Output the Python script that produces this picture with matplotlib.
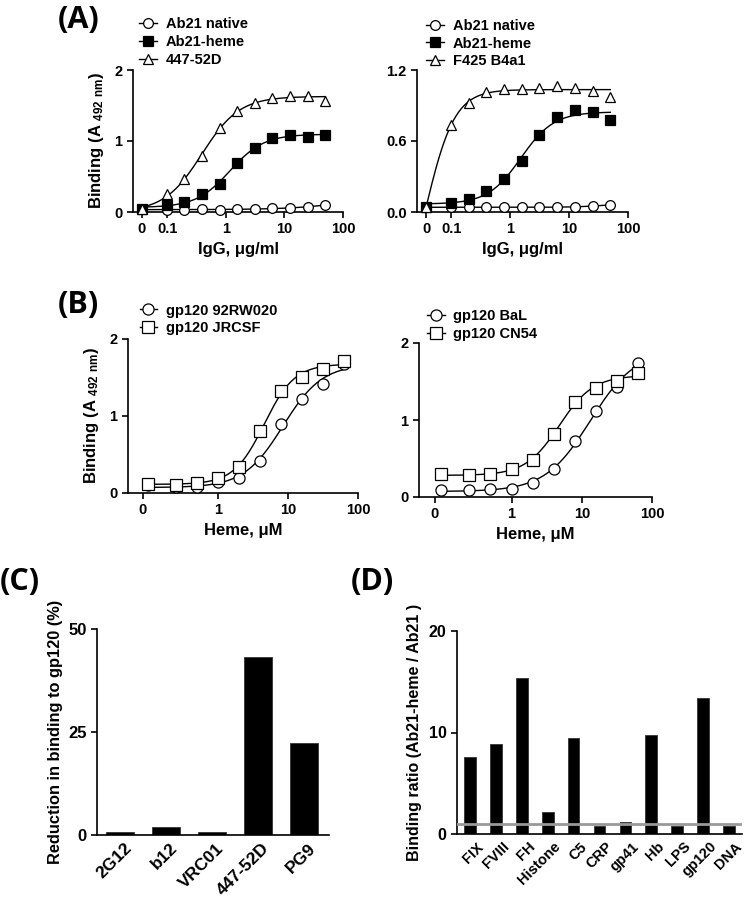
import numpy as np
import matplotlib
matplotlib.use("Agg")
import matplotlib.pyplot as plt
import matplotlib.transforms as mtransforms
from matplotlib.ticker import FixedLocator, FixedFormatter, NullLocator

plt.rcParams['font.family'] = ['Liberation Sans', 'DejaVu Sans']
plt.rcParams['font.weight'] = 'bold'
plt.rcParams['axes.labelweight'] = 'bold'
plt.rcParams['mathtext.fontset'] = 'custom'
plt.rcParams['mathtext.rm'] = 'Liberation Sans:bold'
plt.rcParams['mathtext.bf'] = 'Liberation Sans:bold'
plt.rcParams['mathtext.default'] = 'rm'

# ---------------- data ----------------
# Panel A: IgG concentration (first value is "0", drawn at the "0" tick)
igg_conc = [0, 0.098, 0.195, 0.39, 0.78, 1.56, 3.125, 6.25, 12.5, 25, 50]
a1_native = [0.04, 0.03, 0.03, 0.04, 0.03, 0.04, 0.04, 0.05, 0.06, 0.07, 0.10]
a1_heme = [0.04, 0.10, 0.145, 0.25, 0.40, 0.69, 0.90, 1.04, 1.08, 1.06, 1.09]
a1_447 = [0.04, 0.26, 0.46, 0.79, 1.18, 1.42, 1.54, 1.61, 1.63, 1.64, 1.56]
a2_native = [0.04, 0.04, 0.04, 0.04, 0.04, 0.04, 0.04, 0.04, 0.045, 0.05, 0.06]
a2_heme = [0.04, 0.08, 0.11, 0.18, 0.28, 0.43, 0.65, 0.80, 0.86, 0.845, 0.78]
a2_f425 = [0.04, 0.735, 0.92, 1.01, 1.04, 1.04, 1.045, 1.065, 1.045, 1.025, 0.97]

# Panel B: heme concentration (uM)
heme_conc = [0.1, 0.25, 0.5, 1, 2, 4, 8, 16, 32, 64]
b1_92rw = [0.10, 0.08, 0.08, 0.14, 0.19, 0.42, 0.90, 1.22, 1.41, 1.67]
b1_jrcsf = [0.12, 0.11, 0.13, 0.195, 0.34, 0.80, 1.32, 1.51, 1.61, 1.72]
b2_bal = [0.09, 0.09, 0.10, 0.11, 0.18, 0.36, 0.73, 1.12, 1.43, 1.74]
b2_cn54 = [0.295, 0.28, 0.30, 0.37, 0.48, 0.82, 1.24, 1.41, 1.51, 1.61]

# Panel C
c_labels = ['2G12', 'b12', 'VRC01', '447-52D', 'PG9']
c_values = [0.65, 2.0, 0.8, 43.1, 22.4]

# Panel D
d_labels = ['FIX', 'FVIII', 'FH', 'Histone', 'C5', 'CRP', 'gp41', 'Hb', 'LPS', 'gp120', 'DNA']
d_values = [7.6, 8.9, 15.4, 2.15, 9.5, 0.8, 1.15, 9.75, 0.8, 13.4, 0.8]
d_ref = 1.0

# ------------- helpers --------------
ZERO_A = 0.037


def fit4pl(x, y):
    x = np.asarray(x, float)
    y = np.asarray(y, float)
    lc = np.linspace(-2.5, 2.5, 501)
    hh = np.linspace(0.4, 5.0, 93)
    LC, HH = np.meshgrid(lc, hh, indexing='ij')
    LC = LC.ravel()[:, None]
    HH = HH.ravel()[:, None]
    s = 1.0 / (1.0 + (10.0 ** LC / x[None, :]) ** HH)
    u = 1 - s
    a = (u * u).sum(1); b = (u * s).sum(1); c = (s * s).sum(1)
    d1 = (u * y).sum(1); d2 = (s * y).sum(1)
    det = a * c - b * b
    det = np.where(np.abs(det) < 1e-12, 1e-12, det)
    bot = (c * d1 - b * d2) / det
    top = (a * d2 - b * d1) / det
    pred = bot[:, None] * u + top[:, None] * s
    r = ((pred - y[None, :]) ** 2).sum(1)
    i = np.argmin(r)
    return bot[i], top[i], 10 ** LC[i, 0], HH[i, 0]


def curve(p, xs):
    bot, top, ec, h = p
    return bot + (top - bot) / (1 + (ec / xs) ** h)


def style_axes(ax, labelsize=10.5):
    for sp in ['top', 'right']:
        ax.spines[sp].set_visible(False)
    for sp in ['left', 'bottom']:
        ax.spines[sp].set_linewidth(1.2)
    ax.tick_params(direction='out', length=4, width=1.2, labelsize=labelsize)
    for lab in ax.get_xticklabels() + ax.get_yticklabels():
        lab.set_fontweight('bold')


def dose_panel(ax, xvals, series, xlim, xticks, xticklabels, ylim, yticks,
               yticklabels, xlabel, legend_anchor):
    xs_all = np.array(xvals, float)
    handles = []
    for ys, marker, fc, ms, label in series:
        p = fit4pl(xs_all, ys)
        xx = np.logspace(np.log10(xs_all[0]), np.log10(xs_all[-1]), 300)
        ax.plot(xx, curve(p, xx), color='black', lw=1.0, zorder=2)
        ax.plot(xs_all, ys, linestyle='none', marker=marker, markersize=ms,
                markerfacecolor=fc, markeredgecolor='black', markeredgewidth=0.9,
                zorder=3, clip_on=False)
        h, = ax.plot([], [], color='black', lw=1.0, marker=marker, markersize=ms,
                     markerfacecolor=fc, markeredgecolor='black', markeredgewidth=0.9,
                     label=label)
        handles.append(h)
    ax.set_xscale('log')
    ax.set_xlim(*xlim)
    ax.set_ylim(*ylim)
    ax.xaxis.set_major_locator(FixedLocator(xticks))
    ax.xaxis.set_major_formatter(FixedFormatter(xticklabels))
    ax.xaxis.set_minor_locator(NullLocator())
    ax.set_yticks(yticks)
    ax.set_yticklabels(yticklabels)
    ax.set_xlabel(xlabel, fontsize=12, fontweight='bold', labelpad=4)
    style_axes(ax)
    leg = ax.legend(handles=handles, loc='upper left', bbox_to_anchor=legend_anchor,
                    frameon=False, fontsize=10.5, handlelength=1.2, handletextpad=0.6,
                    labelspacing=0.25, borderpad=0, borderaxespad=0)
    for t in leg.get_texts():
        t.set_fontweight('bold')


ylab_bind = r'Binding (A $_{\mathrm{492\ nm}}$)'

fig = plt.figure(figsize=(7.45, 9.02), dpi=100)

# Panel A
axA1 = fig.add_axes([133 / 745, 1 - 212 / 902, 210 / 745, 142 / 902])
axA2 = fig.add_axes([417 / 745, 1 - 212 / 902, 211 / 745, 142 / 902])
xA = [ZERO_A] + igg_conc[1:]
dose_panel(axA1, xA,
           [(a1_native, 'o', 'white', 7, 'Ab21 native'),
            (a1_heme, 's', 'black', 6.5, 'Ab21-heme'),
            (a1_447, '^', 'white', 7.5, '447-52D')],
           (0.026, 100), [ZERO_A, 0.1, 1, 10, 100], ['0', '0.1', '1', '10', '100'],
           (0, 2), [0, 1, 2], ['0', '1', '2'], 'IgG, μg/ml', (0.03, 1.37))
axA1.set_ylabel(ylab_bind, fontsize=12, fontweight='bold', labelpad=6)
dose_panel(axA2, xA,
           [(a2_native, 'o', 'white', 7, 'Ab21 native'),
            (a2_heme, 's', 'black', 6.5, 'Ab21-heme'),
            (a2_f425, '^', 'white', 7.5, 'F425 B4a1')],
           (0.026, 100), [ZERO_A, 0.1, 1, 10, 100], ['0', '0.1', '1', '10', '100'],
           (0, 1.2), [0, 0.6, 1.2], ['0.0', '0.6', '1.2'], 'IgG, μg/ml', (0.045, 1.36))

# Panel B
axB1 = fig.add_axes([128 / 745, 1 - 493 / 902, 230 / 745, 154 / 902])
axB2 = fig.add_axes([419 / 745, 1 - 497 / 902, 233 / 745, 154 / 902])
dose_panel(axB1, heme_conc,
           [(b1_92rw, 'o', 'white', 8, 'gp120 92RW020'),
            (b1_jrcsf, 's', 'white', 8, 'gp120 JRCSF')],
           (0.052, 100), [0.085, 1, 10, 100], ['0', '1', '10', '100'],
           (0, 2), [0, 1, 2], ['0', '1', '2'], 'Heme, μM', (0.05, 1.23))
axB1.set_ylabel(ylab_bind, fontsize=12, fontweight='bold', labelpad=6)
dose_panel(axB2, heme_conc,
           [(b2_bal, 'o', 'white', 8, 'gp120 BaL'),
            (b2_cn54, 's', 'white', 8, 'gp120 CN54')],
           (0.048, 100), [0.08, 1, 10, 100], ['0', '1', '10', '100'],
           (0, 2), [0, 1, 2], ['0', '1', '2'], 'Heme, μM', (0.035, 1.22))

# Panel C
axC = fig.add_axes([97 / 745, 1 - 835 / 902, 232 / 745, 206 / 902])
xc = np.arange(len(c_labels))
axC.bar(xc, c_values, width=0.61, color='black', edgecolor='#333333', linewidth=0.6)
axC.set_xlim(-0.5, 4.55)
axC.set_ylim(0, 50)
axC.set_yticks([0, 25, 50])
axC.set_xticks(xc)
axC.set_xticklabels(c_labels, rotation=45, ha='right', rotation_mode='anchor')
axC.set_ylabel('Reduction in binding to gp120 (%)', fontsize=11.8, fontweight='bold', labelpad=4)
style_axes(axC, labelsize=12)
axC.tick_params(axis='x', length=0, pad=4, labelsize=12.5)
for lab in axC.get_xticklabels():
    lab.set_transform(lab.get_transform() + mtransforms.ScaledTranslation(4 / 100, 0, fig.dpi_scale_trans))

# Panel D
axD = fig.add_axes([457 / 745, 1 - 834 / 902, 285 / 745, 203 / 902])
xd = np.arange(len(d_labels))
axD.bar(xd, d_values, width=0.45, color='black', edgecolor='#333333', linewidth=0.6)
axD.axhline(d_ref, color='#999999', lw=2, zorder=4)
axD.set_xlim(-0.5, 10.5)
axD.set_ylim(0, 20)
axD.set_yticks([0, 10, 20])
axD.set_xticks(xd)
axD.set_xticklabels(d_labels, rotation=45, ha='right', rotation_mode='anchor')
axD.set_ylabel('Binding ratio (Ab21-heme / Ab21 )', fontsize=11.5, fontweight='bold', labelpad=5)
style_axes(axD, labelsize=11.5)
axD.tick_params(axis='x', length=0, pad=4, labelsize=10.5)
for lab in axD.get_xticklabels():
    lab.set_transform(lab.get_transform() + mtransforms.ScaledTranslation(6 / 100, 0, fig.dpi_scale_trans))

# Panel letters
for txt, x, y in [('(A)', 79, 20), ('(B)', 78, 305), ('(C)', 20, 582), ('(D)', 372, 582)]:
    fig.text(x / 745, 1 - y / 902, txt, fontsize=22, fontweight='bold',
             ha='center', va='center', family=['Open Sans', 'DejaVu Sans'])

fig.savefig('out.png', dpi=100)
